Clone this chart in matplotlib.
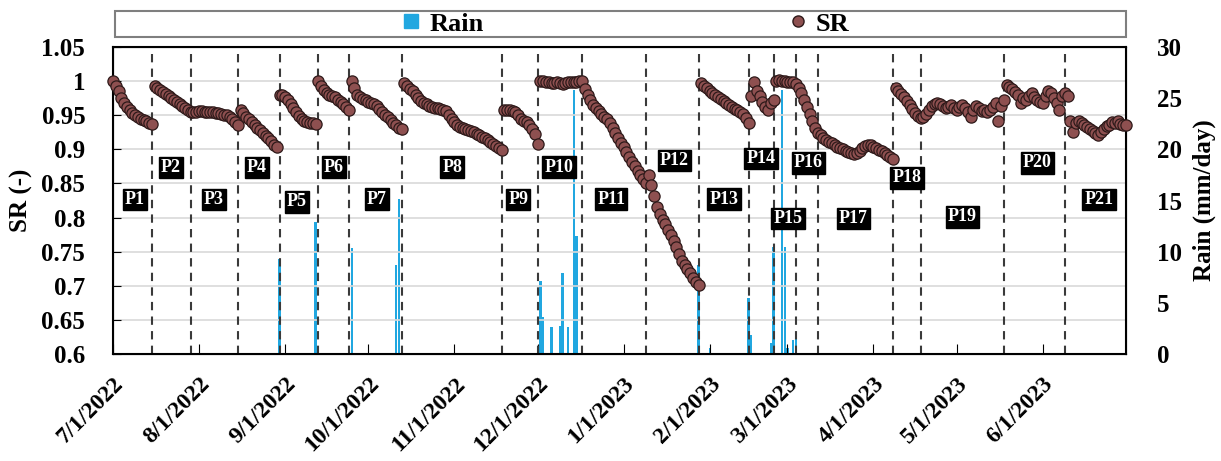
import numpy as np
import pandas as pd
import matplotlib
matplotlib.use('Agg')
import matplotlib.pyplot as plt
import matplotlib.dates as mdates
from matplotlib.lines import Line2D
from matplotlib.patches import Rectangle

plt.rc('font', family='Liberation Serif', weight='bold')

# daily SR from 7/1/2022, one row per period P1..P21
start = '2022-07-01'
sr = [
    1.000, 0.993, 0.985, 0.975, 0.968, 0.962, 0.957, 0.953, 0.950, 0.947, 0.945, 0.943, 0.941, 0.939, 0.937,
    0.993, 0.990, 0.987, 0.984, 0.981, 0.978, 0.975, 0.972, 0.969, 0.966, 0.963, 0.960, 0.957, 0.955,
    0.955, 0.955, 0.956, 0.956, 0.955, 0.955, 0.954, 0.954, 0.953, 0.953, 0.952, 0.951, 0.950, 0.948, 0.945, 0.940, 0.935,
    0.957, 0.953, 0.948, 0.944, 0.940, 0.936, 0.932, 0.928, 0.924, 0.920, 0.916, 0.912, 0.907, 0.903,
    0.980, 0.979, 0.976, 0.972, 0.966, 0.960, 0.954, 0.949, 0.945, 0.942, 0.940, 0.939, 0.938, 0.937,
    1.000, 0.993, 0.987, 0.983, 0.980, 0.978, 0.976, 0.973, 0.970, 0.966, 0.962, 0.958,
    1.000, 0.990, 0.980, 0.976, 0.974, 0.972, 0.970, 0.968, 0.966, 0.963, 0.959, 0.955, 0.951, 0.947, 0.943, 0.939, 0.935, 0.932, 0.930,
    0.997, 0.993, 0.989, 0.985, 0.980, 0.975, 0.971, 0.968, 0.966, 0.964, 0.962, 0.961, 0.960, 0.959, 0.958, 0.956, 0.951, 0.945,
    0.940, 0.936, 0.933, 0.931, 0.930, 0.928, 0.927, 0.925, 0.923, 0.921, 0.918, 0.916, 0.914, 0.911, 0.908, 0.905, 0.902, 0.899,
    0.958, 0.958, 0.957, 0.956, 0.955, 0.950, 0.945, 0.942, 0.940, 0.935, 0.930, 0.922, 0.908,
    1.000, 1.000, 0.999, 0.998, 0.997, 0.997, 0.998, 0.997, 0.996, 0.997, 0.998, 0.998, 0.999, 0.999, 1.000, 1.000,
    0.988, 0.980, 0.972, 0.965, 0.960, 0.956, 0.952, 0.948, 0.944, 0.938, 0.931, 0.924, 0.917, 0.910, 0.903, 0.896, 0.889, 0.882,
    0.875, 0.868, 0.862, 0.856, 0.850,
    0.862, 0.848, 0.832, 0.816, 0.805, 0.797, 0.790, 0.782, 0.774, 0.766, 0.757, 0.746, 0.737, 0.731, 0.725, 0.719, 0.712, 0.705, 0.701,
    0.997, 0.993, 0.990, 0.986, 0.983, 0.980, 0.977, 0.974, 0.971, 0.968, 0.965, 0.962, 0.959, 0.957, 0.955, 0.952, 0.946, 0.939,
    0.978, 0.998, 0.985, 0.978, 0.970, 0.962, 0.957, 0.968, 0.972,
    1.000, 1.001, 1.000, 1.000, 0.999, 0.998, 0.998, 0.996,
    0.990, 0.982, 0.972, 0.962, 0.952, 0.942, 0.932, 0.924,
    0.921, 0.917, 0.914, 0.911, 0.909, 0.906, 0.904, 0.902, 0.900, 0.898, 0.896, 0.894, 0.893, 0.894, 0.898, 0.902, 0.905, 0.907,
    0.906, 0.904, 0.902, 0.899, 0.897, 0.895, 0.892, 0.889, 0.886,
    0.990, 0.986, 0.981, 0.976, 0.971, 0.965, 0.959, 0.953, 0.949, 0.946,
    0.947, 0.952, 0.958, 0.963, 0.966, 0.968, 0.966, 0.963, 0.960, 0.962, 0.965, 0.961, 0.958, 0.962, 0.965, 0.960, 0.955, 0.948,
    0.957, 0.963, 0.960, 0.956, 0.958, 0.954, 0.957, 0.962, 0.968, 0.942, 0.963, 0.972,
    0.995, 0.992, 0.988, 0.984, 0.980, 0.968, 0.975, 0.972, 0.978, 0.982, 0.976, 0.972, 0.970, 0.968, 0.978, 0.985, 0.982, 0.975,
    0.968, 0.958, 0.978, 0.982, 0.978,
    0.942, 0.925, 0.938, 0.942, 0.938, 0.935, 0.933, 0.930, 0.927, 0.924, 0.921, 0.925, 0.930, 0.934, 0.936, 0.940, 0.938, 0.941,
    0.937, 0.936, 0.935,
]

rain_dates = ['2022-08-30', '2022-09-12', '2022-09-25', '2022-10-11', '2022-10-12',
              '2022-12-02', '2022-12-03', '2022-12-06', '2022-12-09', '2022-12-10', '2022-12-12',
              '2022-12-14', '2022-12-15', '2023-01-28', '2023-02-01', '2023-02-15', '2023-02-16',
              '2023-02-23', '2023-02-24', '2023-02-27', '2023-02-28', '2023-03-01', '2023-03-03', '2023-03-04']
rain_mm = [9.3, 12.9, 10.4, 8.7, 15.1,
           7.1, 3.6, 2.6, 2.7, 7.9, 2.6,
           25.8, 11.5, 8.7, 0.6, 5.5, 1.9,
           1.1, 10.5, 25.8, 10.5, 0.6, 1.4, 2.0]

# period boundaries (dashed lines)
boundaries = ['2022-07-15', '2022-07-29', '2022-08-15', '2022-08-30', '2022-09-13', '2022-09-24',
              '2022-10-13', '2022-11-18', '2022-12-01', '2022-12-17', '2023-01-09', '2023-01-28',
              '2023-02-15', '2023-02-24', '2023-03-04', '2023-03-12', '2023-04-08', '2023-04-18',
              '2023-05-18', '2023-06-09']

period_labels = ['P%d' % i for i in range(1, 22)]
label_day = [7.9, 20.9, 36.4, 51.9, 66.3, 79.6, 95.1, 122.2, 146, 160.7, 179.5,
             202.2, 220.2, 233.5, 243.2, 250.5, 266.7, 286.1, 306, 333, 355.3]
label_y = [0.826, 0.873, 0.826, 0.873, 0.823, 0.874, 0.827, 0.874, 0.826, 0.874, 0.827,
           0.884, 0.827, 0.887, 0.799, 0.880, 0.799, 0.858, 0.801, 0.880, 0.826]

t0 = pd.Timestamp(start)
sr_dates = pd.date_range(start, periods=len(sr), freq='D')
rain_color = '#21A7E0'
sr_face = '#8E5050'
sr_edge = '#2E1A1A'

fig = plt.figure(figsize=(12.21, 4.61), dpi=100)
ax = fig.add_axes([113/1221, 1-354/461, (1126-113)/1221, (354-47)/461])
ax2 = ax.twinx()

ax2.bar(pd.to_datetime(rain_dates), rain_mm, width=0.8, color=rain_color, zorder=2)
ax2.set_ylim(0, 30)
ax2.set_yticks(np.arange(0, 31, 5))
ax2.tick_params(axis='y', length=0, labelsize=18, pad=22)
ax2.set_ylabel('Rain (mm/day)', fontsize=18, fontweight='bold', labelpad=8)

ax.set_zorder(ax2.get_zorder() + 1)
ax.patch.set_visible(False)

for b in boundaries:
    ax.axvline(pd.Timestamp(b), color='#3A3A3A', lw=1.5, ls=(0, (4, 3)), zorder=2)

ax.scatter(sr_dates, sr, s=65, facecolor=sr_face, edgecolor=sr_edge, linewidth=0.9,
           zorder=3, clip_on=False)

for lab, d, y in zip(period_labels, label_day, label_y):
    ax.text(mdates.date2num(t0 + pd.Timedelta(days=d)), y, lab, color='white', fontsize=13,
            fontweight='bold', ha='center', va='center', zorder=4,
            bbox=dict(boxstyle='square,pad=0.12', fc='black', ec='black'))

ax.set_ylim(0.6, 1.05)
yt = np.round(np.arange(0.6, 1.051, 0.05), 2)
ax.set_yticks(yt)
ax.set_yticklabels(['%g' % v for v in yt])
ax.yaxis.grid(True, color='#D9D9D9', lw=1.2)
ax.set_axisbelow(True)
ax.tick_params(axis='y', direction='in', length=6, labelsize=18, pad=20)
ax.set_ylabel('SR (-)', fontsize=18, fontweight='bold', labelpad=6)

ax.set_xlim(t0, pd.Timestamp('2023-07-01'))
months = pd.date_range('2022-07-01', '2023-06-01', freq='MS')
ax.set_xticks(months)
ax.set_xticklabels(['%d/%d/%d' % (m.month, m.day, m.year) for m in months],
                   rotation=45, ha='right', rotation_mode='anchor', fontsize=17)
ax.tick_params(axis='x', direction='in', length=7, pad=14)
ax2.tick_params(axis='x', length=0)

for s in ax.spines.values():
    s.set_linewidth(1.5)
    s.set_color('black')

# legend box across the top
fig.add_artist(Rectangle((115/1221, 1-37/461), 1011/1221, 26/461, transform=fig.transFigure,
                         fill=False, ec='#7F7F7F', lw=1.5))
handles = [Line2D([], [], marker='s', ls='none', color=rain_color, markersize=10),
           Line2D([], [], marker='o', ls='none', mfc=sr_face, mec=sr_edge, markersize=8)]
fig.legend(handles, ['Rain', 'SR'], loc='center', bbox_to_anchor=(625/1221, 1-24/461), ncol=2,
           frameon=False, fontsize=19, columnspacing=11.5, handlelength=0.8, handletextpad=0.3)

fig.savefig('out.png', dpi=100)
